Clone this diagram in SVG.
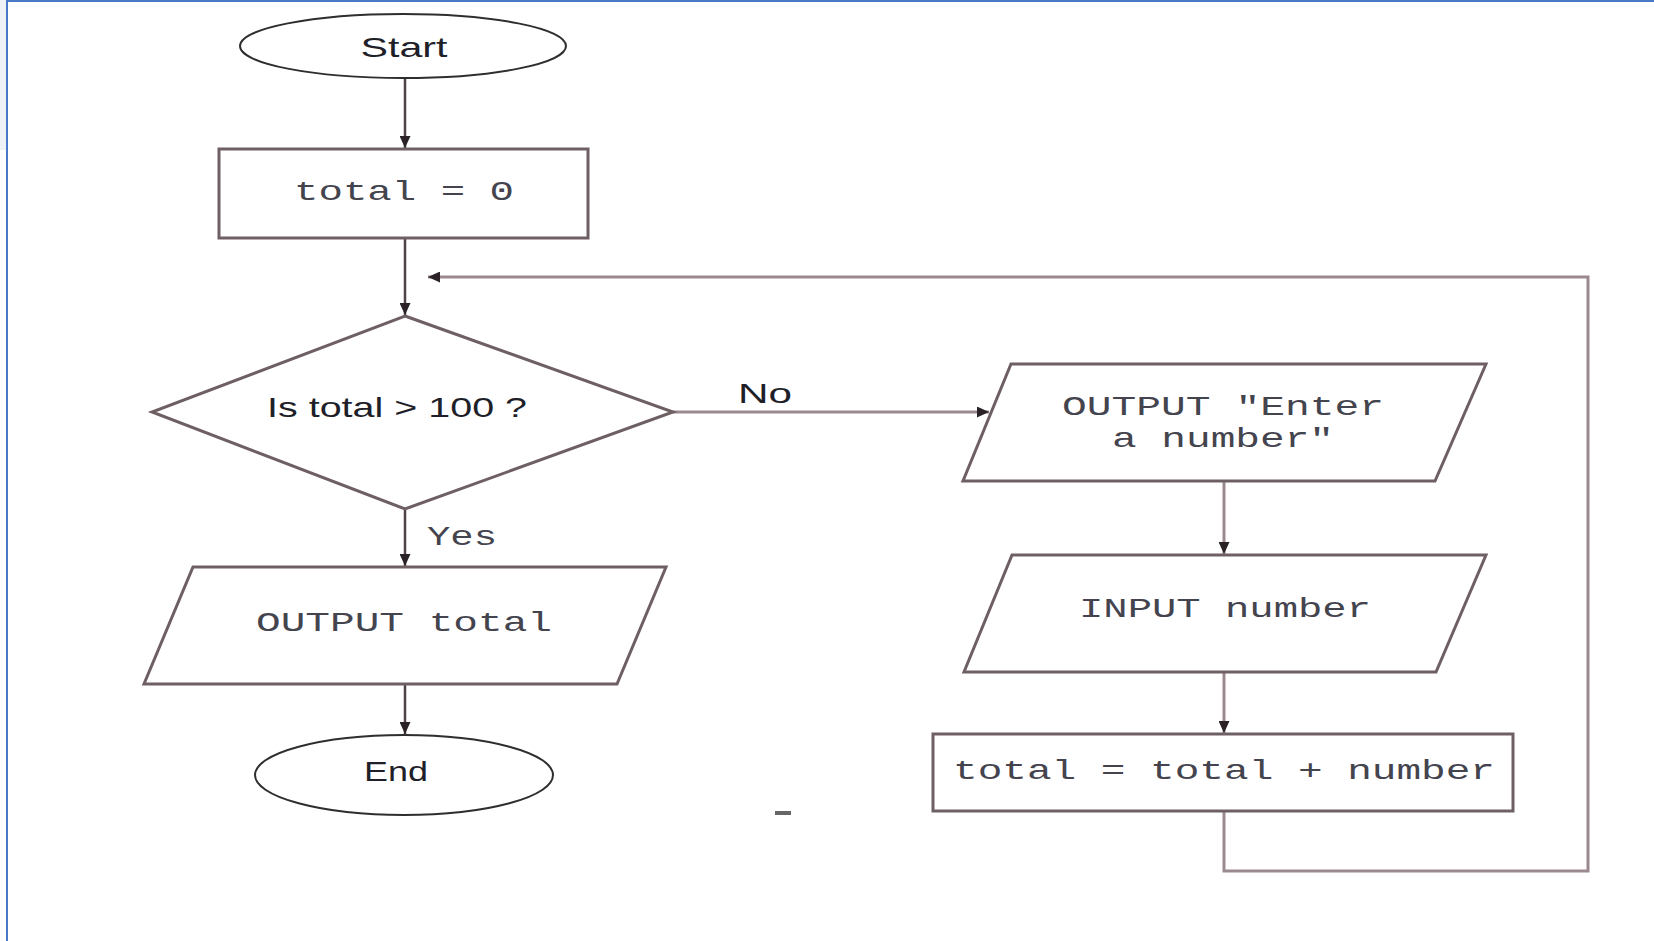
<svg xmlns="http://www.w3.org/2000/svg" width="1654" height="941" viewBox="0 0 1654 941">
  <defs>
    <marker id="ah" viewBox="0 0 12 11" markerWidth="12" markerHeight="11" refX="12" refY="5.5" orient="auto" markerUnits="userSpaceOnUse">
      <path d="M0,0 L12,5.5 L0,11 z" fill="#2a2226"/>
    </marker>
    <style>
      .shape { fill: #ffffff; stroke: #6e5f63; stroke-width: 3; }
      .term { fill: #ffffff; stroke: #2e2e2e; stroke-width: 2; }
      .sans { font-family: "Liberation Sans", Arial, sans-serif; font-size: 28px; fill: #1f1f2a; }
      .mono { font-family: "Liberation Mono", "Courier New", monospace; font-size: 28px; fill: #44444e; }
      .conn { fill: none; stroke: #4d4246; stroke-width: 2.5; }
      .loop { fill: none; stroke: #9a8a8d; stroke-width: 3; }
    </style>
  </defs>

  <rect x="0" y="0" width="1654" height="941" fill="#ffffff"/>
  <rect x="0" y="0" width="6" height="150" fill="#eef2f7"/>
  <line x1="7" y1="0" x2="7" y2="941" stroke="#4a78c8" stroke-width="2"/>
  <line x1="7" y1="1" x2="1654" y2="1" stroke="#4a78c8" stroke-width="2"/>

  <g id="connectors">
    <path class="conn" d="M405 78 L405 148" marker-end="url(#ah)"/>
    <path class="conn" d="M405 238 L405 315" marker-end="url(#ah)"/>
    <path class="conn" d="M405 509 L405 566" marker-end="url(#ah)"/>
    <path class="conn" d="M405 684 L405 734" marker-end="url(#ah)"/>
    <path class="loop" d="M673 412 L989 412" marker-end="url(#ah)"/>
    <path class="loop" d="M1224 481 L1224 554" marker-end="url(#ah)"/>
    <path class="loop" d="M1224 672 L1224 733" marker-end="url(#ah)"/>
    <path class="loop" d="M1224 811 L1224 871 L1588 871 L1588 277 L428 277" marker-end="url(#ah)"/>
    <text class="sans" x="738" y="403" textLength="54" lengthAdjust="spacingAndGlyphs">No</text>
    <text class="mono" x="427" y="545" textLength="70" lengthAdjust="spacingAndGlyphs">Yes</text>
  </g>

  <g id="start">
    <ellipse class="term" cx="403" cy="46" rx="163" ry="32"/>
    <text class="sans" x="404" y="57" text-anchor="middle" textLength="87" lengthAdjust="spacingAndGlyphs">Start</text>
  </g>

  <g id="init">
    <rect class="shape" x="219" y="149" width="369" height="89"/>
    <text class="mono" x="404" y="200" text-anchor="middle" textLength="220" lengthAdjust="spacingAndGlyphs">total = 0</text>
  </g>

  <g id="decision">
    <polygon class="shape" points="405,316 673,412 405,509 152,412"/>
    <text class="sans" x="397" y="417" text-anchor="middle" textLength="260" lengthAdjust="spacingAndGlyphs">Is total &gt; 100 ?</text>
  </g>

  <g id="output-total">
    <polygon class="shape" points="193,567 666,567 617,684 144,684"/>
    <text class="mono" x="404" y="631" text-anchor="middle" textLength="296" lengthAdjust="spacingAndGlyphs">OUTPUT total</text>
  </g>

  <g id="end">
    <ellipse class="term" cx="404" cy="775" rx="149" ry="40"/>
    <text class="sans" x="396" y="781" text-anchor="middle" textLength="64" lengthAdjust="spacingAndGlyphs">End</text>
  </g>

  <g id="output-enter">
    <polygon class="shape" points="1011,364 1486,364 1435,481 963,481"/>
    <text class="mono" x="1223" y="415" text-anchor="middle" textLength="322" lengthAdjust="spacingAndGlyphs">OUTPUT "Enter</text>
    <text class="mono" x="1223" y="447" text-anchor="middle" textLength="222" lengthAdjust="spacingAndGlyphs">a number"</text>
  </g>

  <g id="input">
    <polygon class="shape" points="1012,555 1486,555 1436,672 964,672"/>
    <text class="mono" x="1225" y="617" text-anchor="middle" textLength="292" lengthAdjust="spacingAndGlyphs">INPUT number</text>
  </g>

  <g id="assign">
    <rect class="shape" x="933" y="734" width="580" height="77"/>
    <text class="mono" x="1224" y="779" text-anchor="middle" textLength="542" lengthAdjust="spacingAndGlyphs">total = total + number</text>
  </g>

  <rect x="775" y="811" width="16" height="4" fill="#666666"/>
</svg>
